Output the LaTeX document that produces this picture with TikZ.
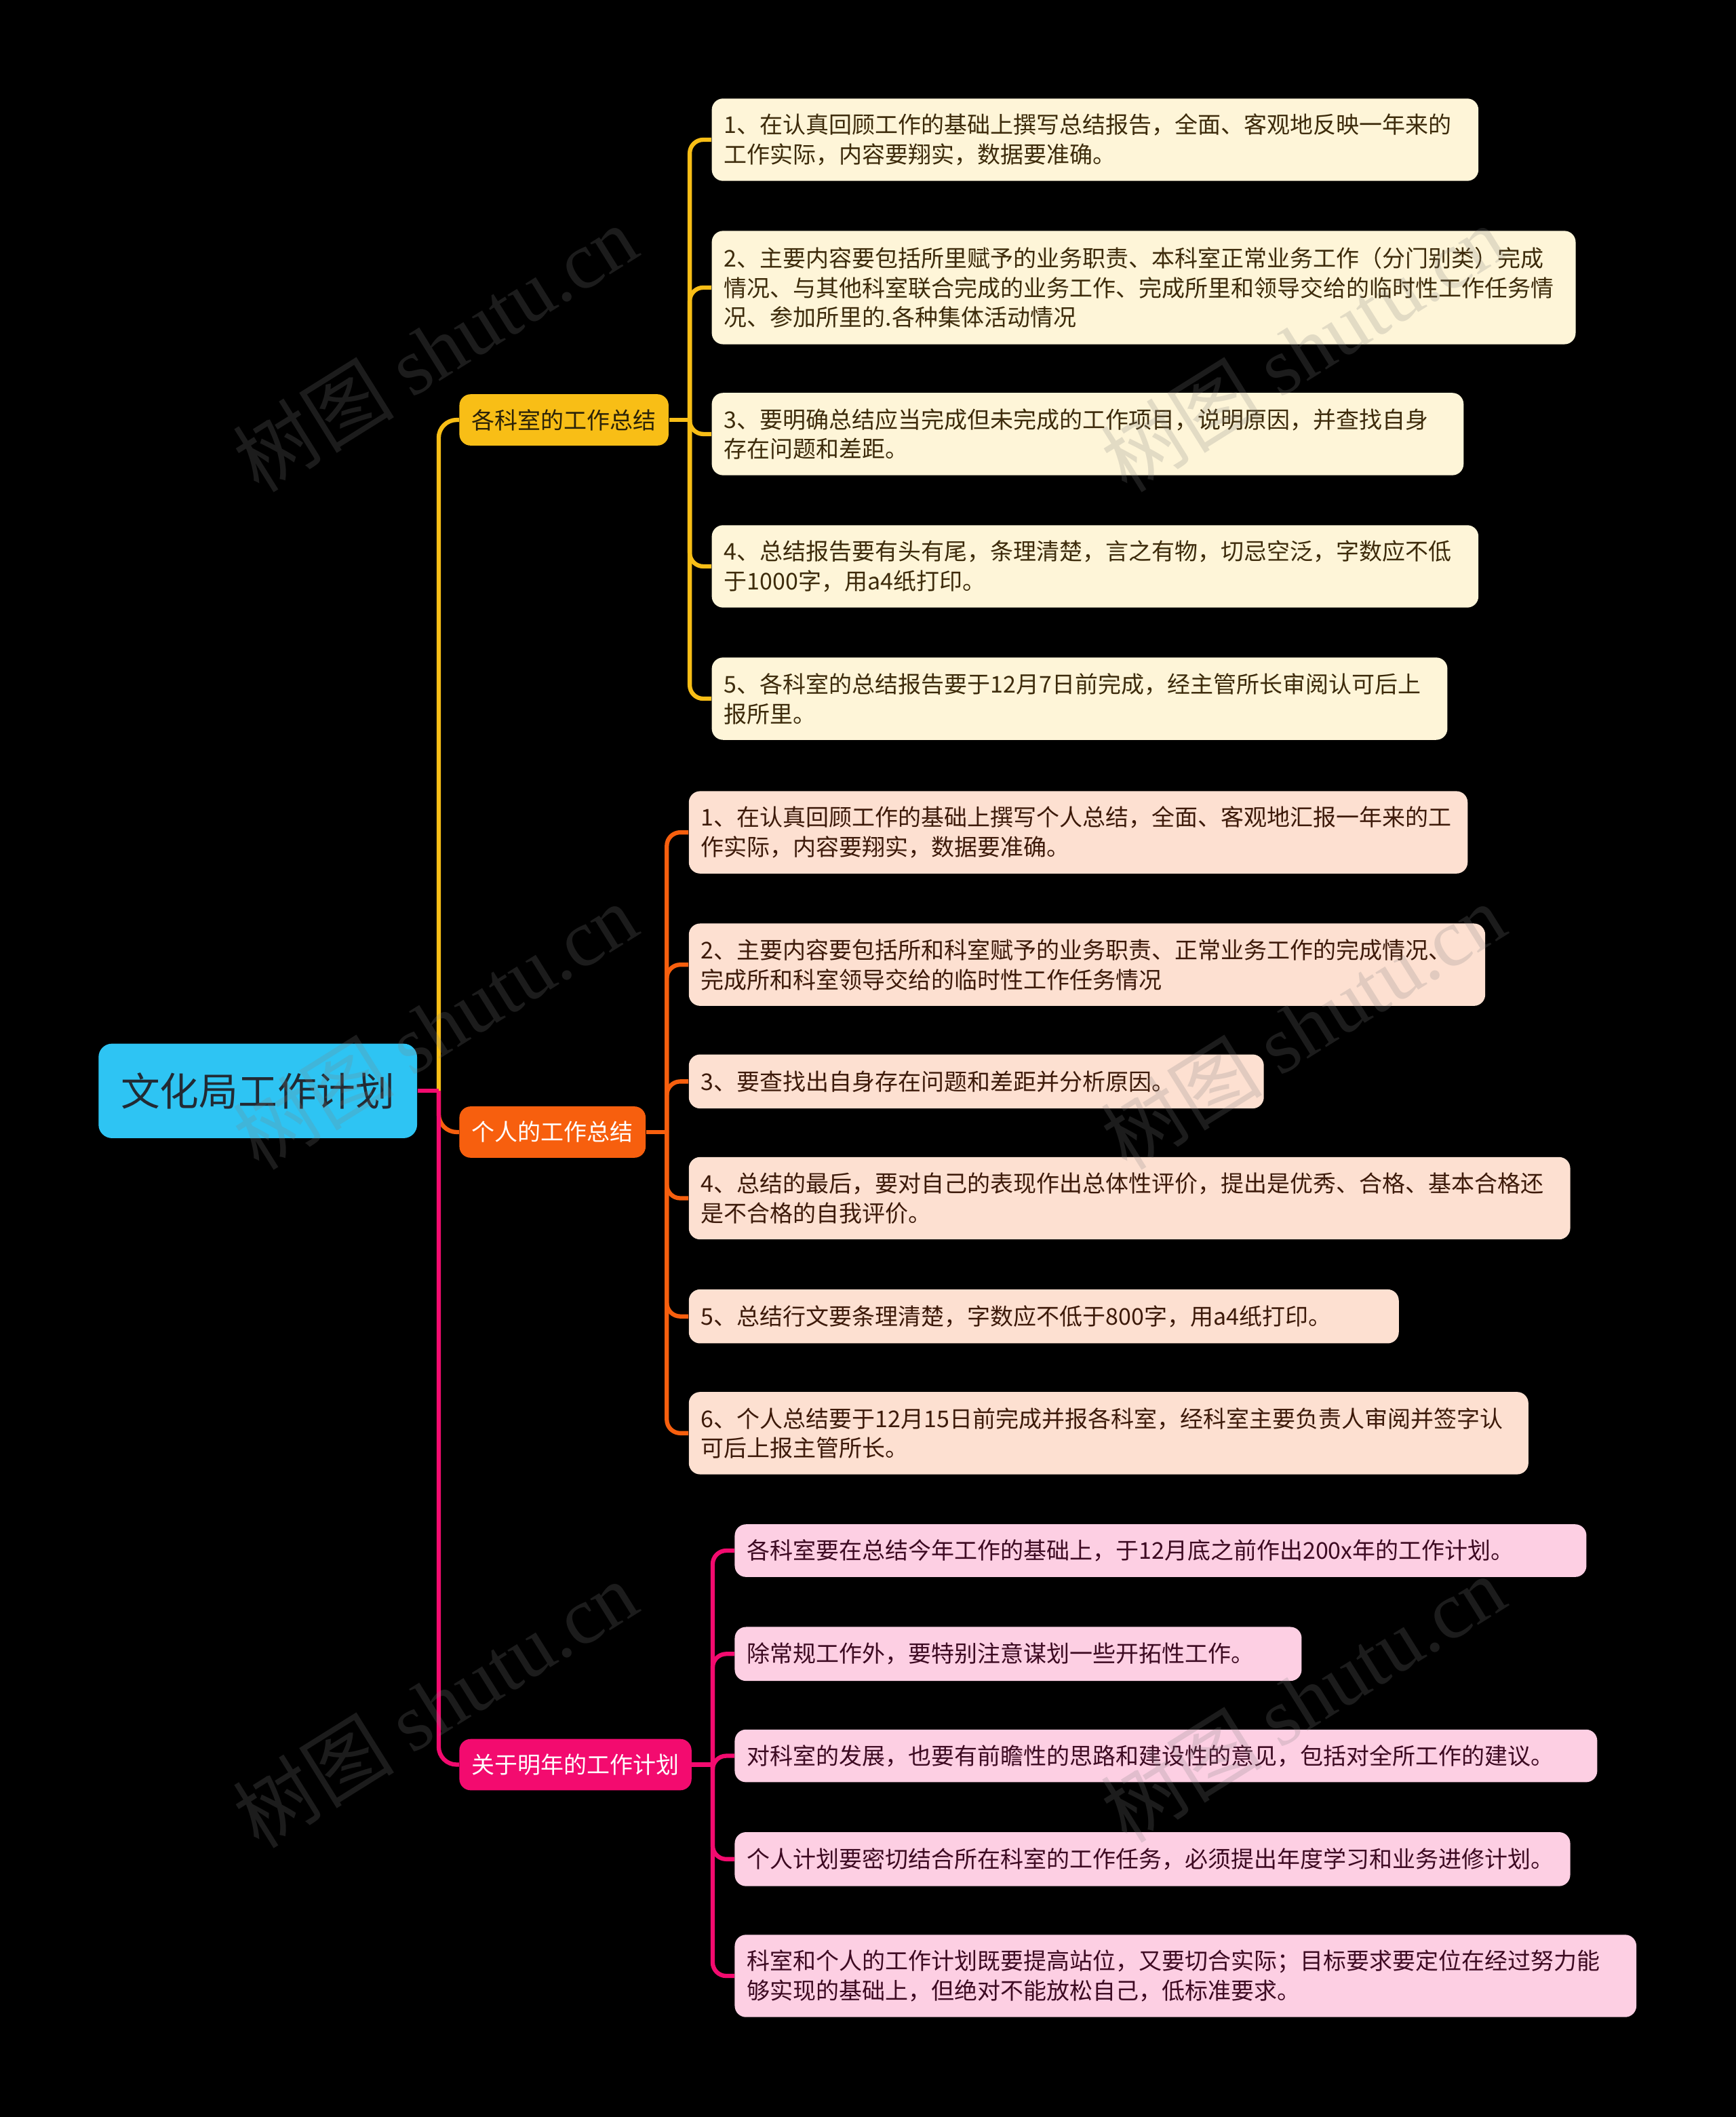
\documentclass[tikz,border=0pt]{standalone}
\usepackage{fontspec}
\setmainfont{Noto Sans CJK SC}
\newfontfamily\wmfont{Liberation Serif}
\definecolor{bgc}{HTML}{000000}
\definecolor{rootc}{HTML}{2EC4F3}
\definecolor{roottxt}{HTML}{222A33}
\definecolor{yelc}{HTML}{F8BE16}
\definecolor{orac}{HTML}{F75F0E}
\definecolor{pinc}{HTML}{F30B6F}
\definecolor{fillA}{HTML}{FEF5D8}
\definecolor{fillB}{HTML}{FDE0D1}
\definecolor{fillC}{HTML}{FDCFE3}
\definecolor{txtA}{HTML}{3D2B0B}
\definecolor{txtB}{HTML}{3D1A0A}
\definecolor{txtC}{HTML}{3D0A22}
\definecolor{txtAb}{HTML}{2B2208}
\tikzset{
  basefont/.style={font=\fontsize{10.25}{13.2}\selectfont},
  leaf/.style={basefont, rounded corners=5pt, anchor=west, align=left,
    inner xsep=5.4pt, inner ysep=0pt},
  leafA/.style={leaf, fill=fillA, text=txtA, text width=#1},
  leafB/.style={leaf, fill=fillB, text=txtB, text width=#1},
  leafC/.style={leaf, fill=fillC, text=txtC, text width=#1},
  branch/.style={basefont, rounded corners=5pt, anchor=west, inner sep=0pt,
    minimum height=22.8pt},
  rootbox/.style={font=\fontsize{17.4}{20}\selectfont, rounded corners=6pt,
    fill=rootc, text=roottxt, minimum width=141.6pt, minimum height=42pt, inner sep=0pt},
  conn/.style={line width=1.9pt, line join=round, rounded corners=6pt},
  wm/.style={font=\fontsize{36}{36}\selectfont, rotate=32, text=gray, text opacity=0.22, inner sep=0pt},
}
\begin{document}
\begin{tikzpicture}[x=0.6pt,y=-0.6pt]
\useasboundingbox (0,0) rectangle (1286,1568);
\fill[bgc] (0,0) rectangle (1286,1568);

% root and branches
\node[rootbox] (root) at (191,808) {文化局工作计划};
\node[branch, fill=yelc, text=txtAb, minimum width=93pt] (A) at (340,311) {各科室的工作总结};
\node[branch, fill=orac, text=white, minimum width=82.8pt] (B) at (340,838.5) {个人的工作总结};
\node[branch, fill=pinc, text=white, minimum width=103.2pt] (C) at (340,1307) {关于明年的工作计划};

% leaves A
\node[leafA=330pt, minimum height=36.6pt] (A1) at (527,103.5) {1、在认真回顾工作的基础上撰写总结报告，全面、客观地反映一年来的\\工作实际，内容要翔实，数据要准确。};
\node[leafA=373.2pt, minimum height=50.4pt] (A2) at (527,213) {2、主要内容要包括所里赋予的业务职责、本科室正常业务工作（分门别类）完成\\情况、与其他科室联合完成的业务工作、完成所里和领导交给的临时性工作任务情\\况、参加所里的.各种集体活动情况};
\node[leafA=323.4pt, minimum height=36.6pt] (A3) at (527,321.5) {3、要明确总结应当完成但未完成的工作项目，说明原因，并查找自身\\存在问题和差距。};
\node[leafA=330pt, minimum height=36.6pt] (A4) at (527,419.5) {4、总结报告要有头有尾，条理清楚，言之有物，切忌空泛，字数应不低\\于1000字，用a4纸打印。};
\node[leafA=316.2pt, minimum height=36.6pt] (A5) at (527,517.5) {5、各科室的总结报告要于12月7日前完成，经主管所长审阅认可后上\\报所里。};

% leaves B
\node[leafB=335.4pt, minimum height=36.6pt] (B1) at (510,616.5) {1、在认真回顾工作的基础上撰写个人总结，全面、客观地汇报一年来的工\\作实际，内容要翔实，数据要准确。};
\node[leafB=343.2pt, minimum height=36.6pt] (B2) at (510,714.5) {2、主要内容要包括所和科室赋予的业务职责、正常业务工作的完成情况、\\完成所和科室领导交给的临时性工作任务情况};
\node[leafB=244.8pt, minimum height=24pt] (B3) at (510,801) {3、要查找出自身存在问题和差距并分析原因。};
\node[leafB=381pt, minimum height=36.6pt] (B4) at (510,887.5) {4、总结的最后，要对自己的表现作出总体性评价，提出是优秀、合格、基本合格还\\是不合格的自我评价。};
\node[leafB=304.8pt, minimum height=24pt] (B5) at (510,975) {5、总结行文要条理清楚，字数应不低于800字，用a4纸打印。};
\node[leafB=362.4pt, minimum height=36.6pt] (B6) at (510,1061.5) {6、个人总结要于12月15日前完成并报各科室，经科室主要负责人审阅并签字认\\可后上报主管所长。};

% leaves C
\node[leafC=367.8pt, minimum height=23.4pt] (C1) at (544,1148.5) {各科室要在总结今年工作的基础上，于12月底之前作出200x年的工作计划。};
\node[leafC=241.2pt, minimum height=24pt] (C2) at (544,1225) {除常规工作外，要特别注意谋划一些开拓性工作。};
\node[leafC=372.6pt, minimum height=23.4pt] (C3) at (544,1300.5) {对科室的发展，也要有前瞻性的思路和建设性的意见，包括对全所工作的建议。};
\node[leafC=360.6pt, minimum height=24pt] (C4) at (544,1377) {个人计划要密切结合所在科室的工作任务，必须提出年度学习和业务进修计划。};
\node[leafC=390pt, minimum height=36.6pt] (C5) at (544,1463.5) {科室和个人的工作计划既要提高站位，又要切合实际；目标要求要定位在经过努力能\\够实现的基础上，但绝对不能放松自己，低标准要求。};

% junction points
\coordinate (jt) at (325,808);
\coordinate (ja) at (511,311);
\coordinate (jb) at (494,838.5);
\coordinate (jc) at (528,1307);

% main connectors
\draw[conn, yelc, rounded corners=8pt] (jt) |- (A.west);
\draw[conn, orac, rounded corners=8pt] (jt) |- (B.west);
\draw[conn, pinc, rounded corners=8pt] (jt) |- (C.west);
\draw[conn, pinc] (root.east) -- (jt);

% sub connectors
\draw[conn, yelc] (A.east) -- (ja);
\foreach \n in {A1,A2,A3,A4,A5} \draw[conn, yelc] (ja) |- (\n.west);
\draw[conn, orac] (B.east) -- (jb);
\foreach \n in {B1,B2,B3,B4,B5,B6} \draw[conn, orac] (jb) |- (\n.west);
\draw[conn, pinc] (C.east) -- (jc);
\foreach \n in {C1,C2,C3,C4,C5} \draw[conn, pinc] (jc) |- (\n.west);

% watermarks
\foreach \wx/\wy [count=\i] in {322/258, 965/258, 322/760, 965/760, 322/1262, 965/1258}
  \node[wm] (wm\i) at (\wx,\wy) {树图 {\wmfont shutu.cn}};
\end{tikzpicture}
\end{document}
